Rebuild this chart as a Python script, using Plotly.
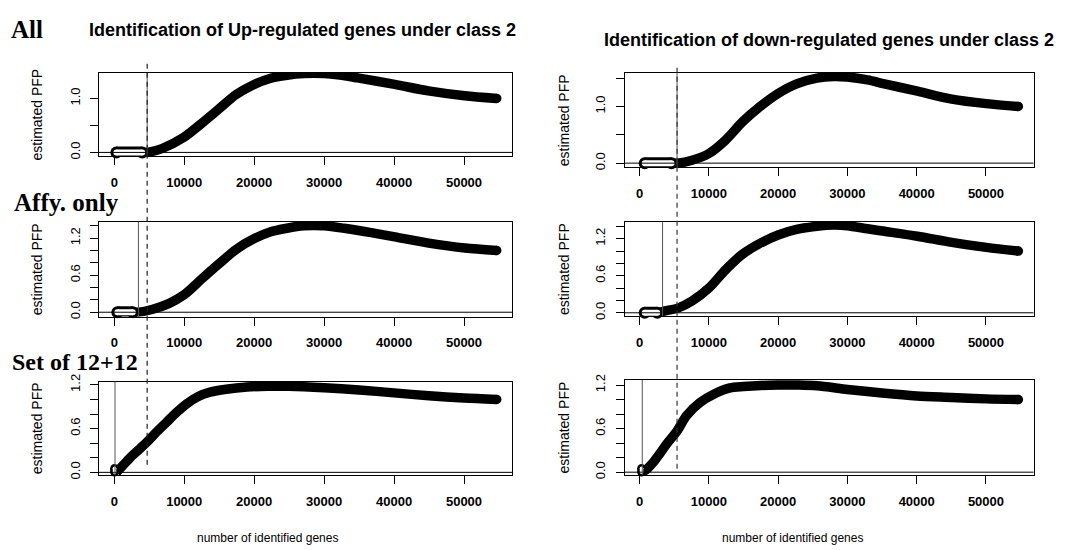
import plotly.graph_objects as go

W, H = 1065, 550

# ---------------- data ----------------
x_ticks = [0, 10000, 20000, 30000, 40000, 50000]
x_tick_text = ["0", "10000", "20000", "30000", "40000", "50000"]
x_range = [-2187, 56862]

top_y_ticks = [0.0, 0.5, 1.0, 1.5]
top_y_text = ["0.0", "", "1.0", ""]
mid_y_ticks = [0.0, 0.2, 0.4, 0.6, 0.8, 1.0, 1.2, 1.4]
mid_y_text = ["0.0", "", "", "0.6", "", "", "1.2", ""]
bot_y_ticks = [0.0, 0.2, 0.4, 0.6, 0.8, 1.0, 1.2]
bot_y_text = ["0.0", "", "", "0.6", "", "", "1.2"]

# All - up-regulated
tl_x = [4000, 4750, 6800, 9950, 12600, 15000, 17400, 19850, 22250, 24700, 27100,
        30000, 31900, 34800, 40100, 44900, 50100, 54675]
tl_y = [0.0, 0.0, 0.07, 0.28, 0.55, 0.81, 1.07, 1.25, 1.37, 1.43, 1.46,
        1.46, 1.44, 1.38, 1.26, 1.14, 1.05, 1.0]
tl_zero_x = [300, 4000]
tl_zero_y = [0.0, 0.0]

# All - down-regulated
tr_x = [4600, 5460, 7560, 10000, 12430, 14860, 17300, 19990, 22660, 25590, 28020,
        29970, 32890, 35330, 40100, 45070, 50050, 54675]
tr_y = [0.0, 0.0, 0.05, 0.17, 0.41, 0.73, 0.99, 1.23, 1.40, 1.50, 1.53,
        1.52, 1.47, 1.40, 1.27, 1.13, 1.05, 1.0]
tr_zero_x = [730, 4600]
tr_zero_y = [0.0, 0.0]

# Affy. only - up-regulated
ml_x = [2650, 3540, 5370, 7780, 9950, 12610, 15030, 17440, 19950, 22260, 24680,
        27080, 29980, 32870, 36730, 40120, 44940, 50140, 54675]
ml_y = [0.0, 0.0, 0.044, 0.14, 0.28, 0.55, 0.79, 1.02, 1.19, 1.30, 1.36,
        1.40, 1.40, 1.36, 1.29, 1.22, 1.12, 1.04, 1.0]
ml_zero_x = [440, 2650]
ml_zero_y = [0.0, 0.0]

# Affy. only - down-regulated
mr_x = [2550, 3660, 5610, 7560, 10000, 12430, 14860, 17300, 19990, 22660, 25590,
        28020, 29970, 32890, 35330, 40100, 45070, 50050, 54675]
mr_y = [0.0, 0.03, 0.08, 0.19, 0.40, 0.70, 0.95, 1.12, 1.26, 1.35, 1.40,
        1.42, 1.41, 1.36, 1.32, 1.24, 1.14, 1.06, 1.0]
mr_zero_x = [730, 2550]
mr_zero_y = [0.0, 0.0]

# Set of 12+12 - up-regulated
bl_x = [300, 1000, 2250, 3500, 4720, 6000, 7490, 9000, 10350, 12000, 13700,
        16000, 19000, 22000, 25000, 30000, 35000, 40000, 45000, 50000, 54675]
bl_y = [0.0, 0.07, 0.20, 0.31, 0.42, 0.55, 0.69, 0.83, 0.94, 1.04, 1.10,
        1.14, 1.17, 1.18, 1.18, 1.16, 1.13, 1.09, 1.05, 1.02, 1.0]
bl_zero_x = [30, 30]
bl_zero_y = [0.0, 0.055]

# Set of 12+12 - down-regulated
br_x = [400, 1020, 2000, 2940, 4000, 5350, 6790, 8710, 10630, 13040, 15000,
        17500, 20000, 23000, 25600, 30000, 35000, 40000, 45000, 50000, 54675]
br_y = [0.0, 0.04, 0.14, 0.26, 0.40, 0.56, 0.78, 0.96, 1.07, 1.16, 1.18,
        1.195, 1.20, 1.20, 1.19, 1.14, 1.09, 1.05, 1.03, 1.01, 1.0]
br_zero_x = [270, 270]
br_zero_y = [0.0, 0.055]

# cut-offs (number of genes)
solid_cut = [4700, 5400, 3450, 3310, 100, 380]
dashed_cut_left = 4700
dashed_cut_right = 5400

titles = ["Identification of Up-regulated genes under class 2",
          "Identification of down-regulated genes under class 2"]
row_labels = ["All", "Affy. only", "Set of 12+12"]
y_label = "estimated PFP"
x_label = "number of identified genes"

# ---------------- layout helpers ----------------
def px_x(v):
    return v / W

def px_y(v):
    return 1 - v / H

# box (left, right, top, bottom) in pixels, y range
panels = [
    dict(box=(99, 512, 66.5, 151.5), yr=[-0.07, 1.47], yt=top_y_ticks, ytt=top_y_text,
         x=tl_x, y=tl_y, zx=tl_zero_x, zy=tl_zero_y, zw=(12, 6)),
    dict(box=(624.5, 1033.5, 66.5, 163), yr=[-0.076, 1.59], yt=top_y_ticks, ytt=top_y_text,
         x=tr_x, y=tr_y, zx=tr_zero_x, zy=tr_zero_y, zw=(12, 6)),
    dict(box=(99, 512, 218.5, 315.5), yr=[-0.071, 1.466], yt=mid_y_ticks, ytt=mid_y_text,
         x=ml_x, y=ml_y, zx=ml_zero_x, zy=ml_zero_y, zw=(12, 6)),
    dict(box=(624.5, 1033.5, 218.8, 315), yr=[-0.054, 1.47], yt=mid_y_ticks, ytt=mid_y_text,
         x=mr_x, y=mr_y, zx=mr_zero_x, zy=mr_zero_y, zw=(12, 6)),
    dict(box=(99, 512, 381.9, 477.4), yr=[-0.036, 1.245], yt=bot_y_ticks, ytt=bot_y_text,
         x=bl_x, y=bl_y, zx=bl_zero_x, zy=bl_zero_y, zw=(8.5, 3.5)),
    dict(box=(624.5, 1033.5, 380.3, 477.5), yr=[-0.04, 1.27], yt=bot_y_ticks, ytt=bot_y_text,
         x=br_x, y=br_y, zx=br_zero_x, zy=br_zero_y, zw=(8.5, 3.5)),
]

fig = go.Figure()
layout = dict(width=W, height=H, margin=dict(l=0, r=0, t=0, b=0),
              paper_bgcolor="white", plot_bgcolor="white", showlegend=False)
shapes = []
annotations = []
LW = 9.5

for i, p in enumerate(panels):
    n = i + 1
    xa = "x" if n == 1 else f"x{n}"
    ya = "y" if n == 1 else f"y{n}"
    l, r, t, b = p["box"]
    layout["xaxis" if n == 1 else f"xaxis{n}"] = dict(
        domain=[px_x(l), px_x(r)], anchor=ya, range=x_range,
        tickmode="array", tickvals=x_ticks, ticktext=x_tick_text,
        ticks="outside", ticklen=8, tickwidth=1, tickcolor="black",
        showline=True, mirror=True, linecolor="black", linewidth=1,
        showgrid=False, zeroline=False, ticklabelstandoff=6,
        tickfont=dict(family="Liberation Sans, Arial", size=13, color="black", weight="bold"),
        fixedrange=True)
    layout["yaxis" if n == 1 else f"yaxis{n}"] = dict(
        domain=[px_y(b), px_y(t)], anchor=xa, range=p["yr"],
        tickmode="array", tickvals=p["yt"], ticktext=p["ytt"], tickangle=-90,
        ticks="outside", ticklen=8, tickwidth=1, tickcolor="black",
        showline=True, mirror=True, linecolor="black", linewidth=1,
        showgrid=False, zeroline=False, ticklabelstandoff=5,
        tickfont=dict(family="Liberation Sans, Arial", size=13, color="black"),
        fixedrange=True)

    # horizontal line at 0
    shapes.append(dict(type="line", xref=f"{xa} domain", yref=ya, x0=0, x1=1, y0=0, y1=0,
                       line=dict(color="black", width=1)))
    # solid cut line inside the box
    shapes.append(dict(type="line", xref=xa, yref=f"{ya} domain",
                       x0=solid_cut[i], x1=solid_cut[i], y0=0, y1=1,
                       line=dict(color="#555555", width=1)))

    # curve
    fig.add_trace(go.Scatter(x=p["x"], y=p["y"], xaxis=xa, yaxis=ya, mode="lines",
                             line=dict(color="black", width=LW, shape="spline", smoothing=0.8),
                             hoverinfo="skip"))
    fig.add_trace(go.Scatter(x=p["x"][-1:], y=p["y"][-1:], xaxis=xa, yaxis=ya, mode="markers",
                             marker=dict(color="black", size=LW, line=dict(width=0)),
                             hoverinfo="skip"))
    # hollow capsule of the zero segment
    ow, iw = p["zw"]
    fig.add_trace(go.Scatter(x=p["zx"], y=p["zy"], xaxis=xa, yaxis=ya, mode="lines+markers",
                             line=dict(color="black", width=ow),
                             marker=dict(color="black", size=ow, line=dict(width=0)),
                             hoverinfo="skip", cliponaxis=False))
    fig.add_trace(go.Scatter(x=p["zx"], y=p["zy"], xaxis=xa, yaxis=ya, mode="lines+markers",
                             line=dict(color="white", width=iw),
                             marker=dict(color="white", size=iw, line=dict(width=0)),
                             hoverinfo="skip", cliponaxis=False))

    # y label
    cx = 37 if n % 2 == 1 else 564
    annotations.append(dict(text=y_label, xref="paper", yref="paper",
                            x=px_x(cx), y=px_y((t + b) / 2), textangle=-90,
                            showarrow=False, xanchor="center", yanchor="middle",
                            font=dict(family="Liberation Sans, Arial", size=14, color="black")))

# long dashed cut lines through all three rows
shapes.append(dict(type="line", xref="x", yref="paper", x0=dashed_cut_left, x1=dashed_cut_left,
                   y0=px_y(57), y1=px_y(471),
                   line=dict(color="#222222", width=1.2, dash="5px,4px")))
shapes.append(dict(type="line", xref="x2", yref="paper", x0=dashed_cut_right, x1=dashed_cut_right,
                   y0=px_y(61), y1=px_y(474),
                   line=dict(color="#333333", width=1.2, dash="5px,4px")))

# titles
annotations.append(dict(text=f"<b>{titles[0]}</b>", xref="paper", yref="paper",
                        x=px_x(302.5), y=px_y(22), showarrow=False,
                        xanchor="center", yanchor="middle",
                        font=dict(family="Liberation Sans, Arial", size=18, color="black")))
annotations.append(dict(text=f"<b>{titles[1]}</b>", xref="paper", yref="paper",
                        x=px_x(828.5), y=px_y(33), showarrow=False,
                        xanchor="center", yanchor="middle",
                        font=dict(family="Liberation Serif, Times New Roman", size=18, color="black")
                        if False else dict(family="Liberation Sans, Arial", size=18, color="black")))
# row labels
for lab, lx, ly, fs in zip(row_labels, [9, 12, 10], [22, 199, 362], [25, 25, 24]):
    annotations.append(dict(text=f"<b>{lab}</b>", xref="paper", yref="paper",
                            x=px_x(lx), y=px_y(ly), showarrow=False,
                            xanchor="left", yanchor="middle",
                            font=dict(family="Liberation Serif, Times New Roman", size=fs,
                                      color="black")))
# x labels
for cx in [267, 792]:
    annotations.append(dict(text=x_label, xref="paper", yref="paper",
                            x=px_x(cx), y=px_y(542), showarrow=False,
                            xanchor="center", yanchor="middle",
                            font=dict(family="Liberation Sans, Arial", size=12, color="black")))

layout["shapes"] = shapes
layout["annotations"] = annotations
fig.update_layout(**layout)
fig.write_html("out.html", config={"displayModeBar": False},
               post_script="document.body.style.margin='0px';document.body.style.overflow='hidden';")
